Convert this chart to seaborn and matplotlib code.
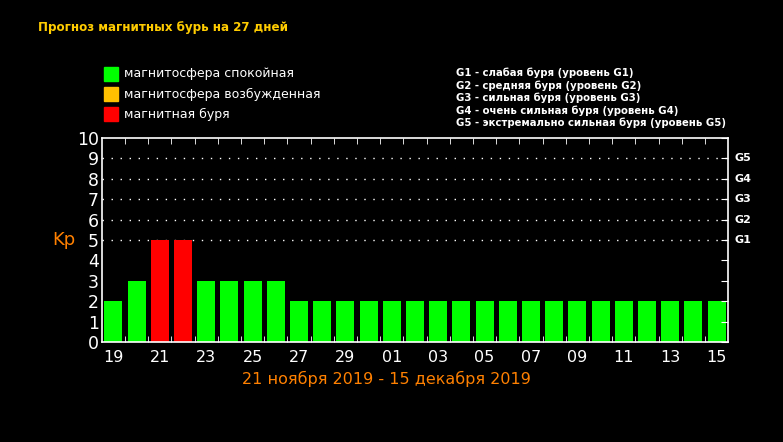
import matplotlib
matplotlib.use('Agg')
import matplotlib.pyplot as plt
import seaborn as sns
import pandas as pd
from matplotlib.patches import Rectangle

# данные прогноза
days = ['19', '20', '21', '22', '23', '24', '25', '26', '27', '28', '29', '30',
        '01', '02', '03', '04', '05', '06', '07', '08', '09', '10', '11', '12', '13', '14', '15']
kp = [2, 3, 5, 5, 3, 3, 3, 3, 2, 2, 2, 2,
      2, 2, 2, 2, 2, 2, 2, 2, 2, 2, 2, 2, 2, 2, 2]
status = ['спокойная', 'спокойная', 'буря', 'буря', 'спокойная', 'спокойная', 'спокойная', 'спокойная',
          'спокойная', 'спокойная', 'спокойная', 'спокойная', 'спокойная', 'спокойная', 'спокойная',
          'спокойная', 'спокойная', 'спокойная', 'спокойная', 'спокойная', 'спокойная', 'спокойная',
          'спокойная', 'спокойная', 'спокойная', 'спокойная', 'спокойная']
legend_labels = ['магнитосфера спокойная', 'магнитосфера возбужденная', 'магнитная буря']
g_levels = [5, 6, 7, 8, 9]
g_names = ['G1', 'G2', 'G3', 'G4', 'G5']
g_desc = ['G1 - слабая буря (уровень G1)',
          'G2 - средняя буря (уровень G2)',
          'G3 - сильная буря (уровень G3)',
          'G4 - очень сильная буря (уровень G4)',
          'G5 - экстремально сильная буря (уровень G5)']

colors = {'спокойная': '#00ff00', 'возбужденная': '#ffc000', 'буря': '#ff0000'}
legend_colors = ['#00ff00', '#ffc000', '#ff0000']

df = pd.DataFrame({'day': days, 'kp': kp, 'status': status})

fig = plt.figure(figsize=(7.83, 4.42), dpi=100, facecolor='black')
ax = fig.add_axes([0.130, 0.226, 0.800, 0.462])
ax.set_facecolor('black')

sns.barplot(data=df, x='day', y='kp', hue='status', palette=colors, order=days,
            dodge=False, legend=False, width=0.78, saturation=1, ax=ax)

ax.set_xlim(-0.5, len(days) - 0.5)
ax.set_ylim(0, 10)

# пунктирная сетка уровней G
for lvl, name in zip(g_levels, g_names):
    ax.axhline(lvl, color='white', lw=1, linestyle=(0, (1, 5.5)), zorder=0)
    ax.text(1.01, lvl, name, transform=ax.get_yaxis_transform(), color='white',
            fontsize=8, fontweight='bold', va='center', ha='left')

for s in ax.spines.values():
    s.set_color('white')
    s.set_linewidth(1.2)

ax.set_yticks(range(0, 11))
ax.set_yticklabels([str(i) for i in range(0, 11)])
ax.tick_params(axis='y', left=False, right=True, direction='in', length=5,
               color='white', labelcolor='white', labelsize=12.5, pad=2)

ax.set_xticks(range(0, len(days), 2))
ax.set_xticklabels(days[::2])
ax.set_xticks([i + 0.5 for i in range(len(days) - 1)], minor=True)
ax.tick_params(axis='x', which='major', length=0, labelcolor='white', labelsize=11.5, pad=6)
ax.tick_params(axis='x', which='minor', bottom=True, top=True, direction='in', length=4, color='white')

ax.set_xlabel('21 ноября 2019 - 15 декабря 2019', color='#ff8000', fontsize=11.5)
ax.xaxis.set_label_coords(0.455, -0.14)
ax.xaxis.label.set_va('top')
ax.set_ylabel('Kp', color='#ff8000', fontsize=13, rotation=0, va='center')
ax.yaxis.set_label_coords(-0.06, 0.5)

# заголовок
fig.text(38 / 783, 1 - 28 / 442, 'Прогноз магнитных бурь на 27 дней', color='#ffcc00',
         fontsize=8.6, fontweight='bold', va='center', ha='left')

# легенда
for i, (lab, c) in enumerate(zip(legend_labels, legend_colors)):
    yc = 1 - (74 + 20 * i) / 442
    fig.patches.append(Rectangle((104 / 783, yc - 7 / 442), 14 / 783, 14 / 442,
                                 transform=fig.transFigure, color=c))
    fig.text(124 / 783, yc, lab, color='white', fontsize=9, va='center', ha='left')

for i, t in enumerate(g_desc):
    fig.text(456 / 783, 1 - (73 + 12.5 * i) / 442, t, color='white', fontsize=7.3,
             fontweight='bold', va='center', ha='left')

fig.savefig('out.png', dpi=100, facecolor='black')
